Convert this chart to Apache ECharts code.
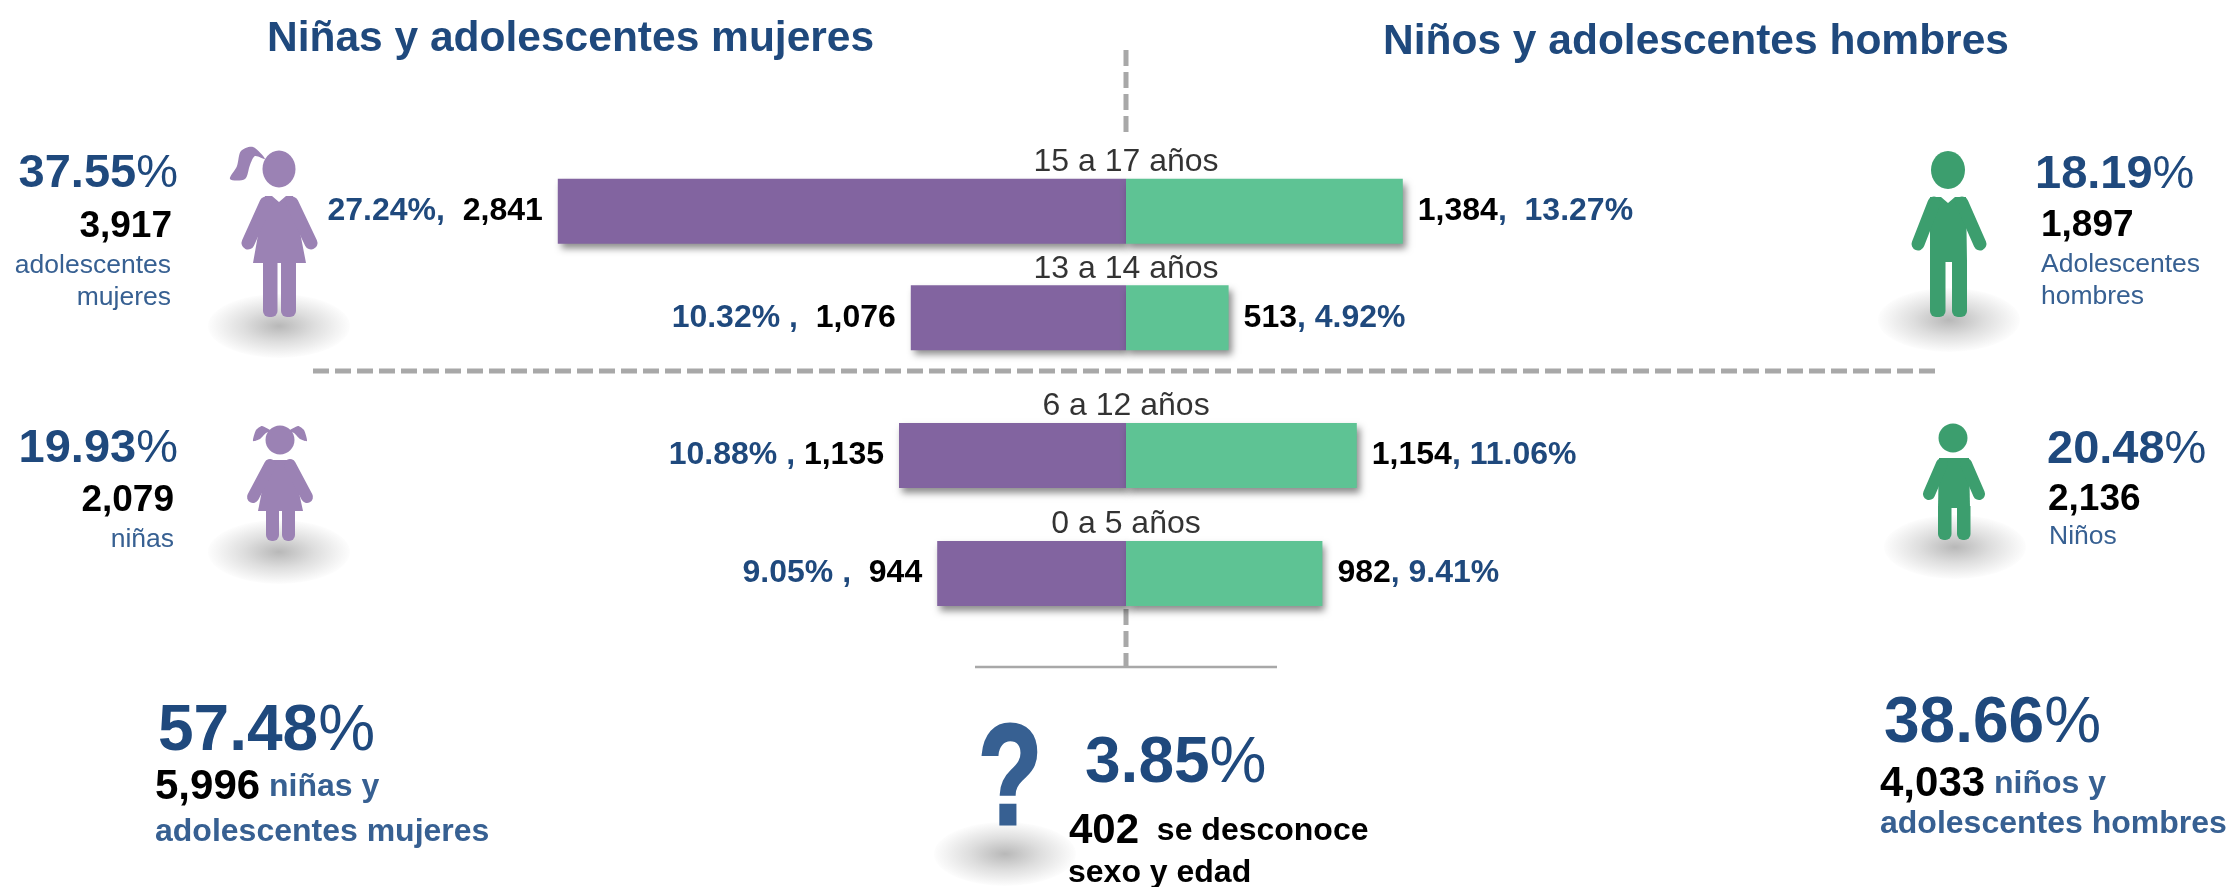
<!DOCTYPE html>
<html>
<head>
<meta charset="utf-8">
<title>Niñas, niños y adolescentes</title>
<script src="https://cdn.jsdelivr.net/npm/echarts@6/dist/echarts.min.js"></script>
<style>
  html, body { margin: 0; padding: 0; background: #fff; }
  #chart { width: 2229px; height: 887px; }
</style>
</head>
<body>
<div id="chart"></div>
<script>
// data
// bars use the printed counts on one shared scale; the source drawing is not to
// scale, so some bars here differ from it in length by up to about 35px
const ageGroups = ['15 a 17 años', '13 a 14 años', '6 a 12 años', '0 a 5 años']
const girls = [2841, 1076, 1135, 944]
const boys = [1384, 513, 1154, 982]
const girlsPct = ['27.24%,', '10.32% ,', '10.88% ,', '9.05% ,']
const boysPct = [',  13.27%', ', 4.92%', ', 11.06%', ', 9.41%']
const girlsGap = ['  ', '  ', ' ', '  ']

const PURPLE = '#8264A0'
const GREEN = '#5EC394'
const GIRL = '#9B82B4'
const BOY = '#3C9E6E'
const BLUE = '#1F497D'
const SUB = '#376092'
const GREY = '#A8A8A8'
const FONT = '"Liberation Sans", Arial, sans-serif'

const fmt = (n) => n.toLocaleString('en-US')

// one bar series, half of a row block (offset = index of the block's first row)
function barSeries(axis, offset, side) {
  const isGirl = side === 'girl'
  const source = isGirl ? girls : boys
  return {
    type: 'bar',
    xAxisIndex: axis,
    yAxisIndex: axis,
    stack: 'block' + axis,
    barWidth: 65,
    data: source.slice(offset, offset + 2).map(v => isGirl ? -v : v),
    itemStyle: {
      color: isGirl ? PURPLE : GREEN,
      shadowColor: 'rgba(0,0,0,0.45)',
      shadowBlur: 7,
      shadowOffsetX: 3,
      shadowOffsetY: 5
    },
    label: {
      show: true,
      position: isGirl ? 'left' : 'right',
      distance: 15,
      formatter: (p) => {
        const i = p.dataIndex + offset
        return isGirl
          ? `{p|${girlsPct[i]}}{n|${girlsGap[i]}${fmt(girls[i])}}`
          : `{n|${fmt(boys[i])}}{p|${boysPct[i]}}`
      },
      rich: {
        p: { fontFamily: FONT, fontSize: 32, fontWeight: 'bold', color: BLUE },
        n: { fontFamily: FONT, fontSize: 32, fontWeight: 'bold', color: '#000' }
      }
    }
  }
}

// age caption above each row, anchored on the zero line
function ageSeries(axis, names) {
  return {
    type: 'scatter',
    xAxisIndex: axis,
    yAxisIndex: axis,
    symbolSize: 0,
    data: names.map(name => [0, name]),
    label: {
      show: true,
      position: 'top',
      distance: 33,
      formatter: (p) => p.value[1],
      fontFamily: FONT,
      fontSize: 32,
      color: '#000'
    }
  }
}

function valueAxis(index) {
  return { gridIndex: index, type: 'value', min: -3000, max: 3000, show: false }
}

function ageAxis(index, names) {
  return { gridIndex: index, type: 'category', inverse: true, data: names, show: false }
}

// helpers for the decoration drawn around the bars
function text(x, y, content, align, rich) {
  return {
    type: 'text',
    z: 5,
    style: { x, y: y + 2.5, text: content, align, verticalAlign: 'middle', rich, fontFamily: FONT }
  }
}

// circle squashed to an ellipse so the radial gradient follows its shape
function floorShadow(cx, cy) {
  return {
    type: 'circle',
    z: 1,
    x: cx,
    y: cy,
    scaleY: 0.45,
    shape: { cx: 0, cy: 0, r: 71 },
    style: {
      fill: new echarts.graphic.RadialGradient(0.5, 0.5, 0.5, [
        { offset: 0, color: '#b8b8b8' },
        { offset: 0.5, color: '#dedede' },
        { offset: 0.85, color: '#f4f4f4' },
        { offset: 1, color: '#fdfdfd' }
      ])
    }
  }
}

const ell = (cx, cy, rx, ry, fill) => ({ type: 'ellipse', z: 3, shape: { cx, cy, rx, ry }, style: { fill } })
const poly = (points, fill, smooth) => ({ type: 'polygon', z: 3, shape: { points, smooth: smooth || 0 }, style: { fill } })
const leg = (x, y, width, height, fill) => ({ type: 'rect', z: 3, shape: { x, y, width, height, r: [0, 0, 6, 6] }, style: { fill } })
const arm = (x1, y1, x2, y2, w, stroke) => ({
  type: 'line', z: 3, shape: { x1, y1, x2, y2 }, style: { stroke, lineWidth: w, lineCap: 'round' }
})
const dashed = (x1, y1, x2, y2) => ({
  type: 'line', z: 0, shape: { x1, y1, x2, y2 }, style: { stroke: GREY, lineWidth: 5, lineDash: [16, 6] }
})

// graphic text takes fill, not color, in its rich styles
const big = (s) => ({
  a: { fontFamily: FONT, fontSize: s, fontWeight: 'bold', fill: BLUE },
  b: { fontFamily: FONT, fontSize: s, fill: BLUE }
})
const black = (s) => ({ n: { fontFamily: FONT, fontSize: s, fontWeight: 'bold', fill: '#000' } })
const sub = { s: { fontFamily: FONT, fontSize: 26.5, fill: SUB } }
const totals = (s) => ({
  ...black(42),
  t: { fontFamily: FONT, fontSize: s, fontWeight: 'bold', fill: SUB },
  k: { fontFamily: FONT, fontSize: s, fontWeight: 'bold', fill: '#000' }
})
const header = { h: { fontFamily: FONT, fontSize: 42.5, fontWeight: 'bold', fill: BLUE } }

const decoration = [
  // guide lines
  dashed(1126, 50, 1126, 135),
  dashed(313, 371, 1940, 371),
  dashed(1126, 609, 1126, 667),
  { type: 'line', z: 0, shape: { x1: 975, y1: 667, x2: 1277, y2: 667 }, style: { stroke: GREY, lineWidth: 2.5 } },

  // adolescent girl
  floorShadow(279, 326),
  ell(279, 169, 16.5, 18.5, GIRL),
  poly([[265, 159], [253, 147], [241, 151], [237, 166], [230, 179], [245, 179], [250, 165], [255, 156]], GIRL, 0.3),
  poly([[265, 196], [272, 196], [279, 202], [286, 196], [293, 196], [306, 263], [253, 263]], GIRL),
  arm(266, 203, 248, 243, 13, GIRL),
  arm(292, 203, 311, 243, 13, GIRL),
  leg(263, 262, 14.5, 55, GIRL),
  leg(281, 262, 15, 55, GIRL),

  // girl
  floorShadow(279, 552),
  ell(280, 440, 14.5, 14.5, GIRL),
  poly([[271, 431], [262, 426], [256, 430], [253, 441], [260, 439], [266, 433]], GIRL, 0.2),
  poly([[289, 431], [298, 426], [304, 430], [307, 441], [300, 439], [294, 433]], GIRL, 0.2),
  poly([[268, 460], [292, 460], [303, 511], [258, 511]], GIRL),
  arm(270, 465, 253, 497, 12, GIRL),
  arm(290, 465, 307, 497, 12, GIRL),
  leg(266, 510, 13, 31, GIRL),
  leg(282, 510, 13, 31, GIRL),

  // adolescent boy
  floorShadow(1949, 320),
  ell(1948, 170, 17, 19, BOY),
  poly([[1930, 197], [1941, 197], [1948, 203], [1955, 197], [1966, 197], [1967, 262], [1930, 262]], BOY),
  arm(1934, 203, 1918, 244, 13, BOY),
  arm(1962, 203, 1980, 244, 13, BOY),
  leg(1930, 260, 15.5, 57, BOY),
  leg(1952, 260, 15, 57, BOY),

  // boy
  floorShadow(1955, 547),
  ell(1953, 438, 14.5, 14.5, BOY),
  poly([[1939, 458], [1969, 458], [1970, 508], [1938, 508]], BOY),
  arm(1942, 464, 1929, 494, 12, BOY),
  arm(1966, 464, 1979, 494, 12, BOY),
  leg(1938, 506, 13.5, 34, BOY),
  leg(1957, 506, 13.5, 34, BOY),

  // unknown
  floorShadow(1005, 854),
  {
    type: 'text',
    z: 5,
    x: 1010,
    y: 785,
    scaleX: 0.74,
    style: {
      x: 0, y: 0, text: '?', align: 'center', verticalAlign: 'middle',
      fontFamily: FONT, fontSize: 142, fontWeight: 'bold', fill: SUB,
      stroke: SUB, lineWidth: 3
    }
  },

  // headers
  text(267, 37, '{h|Niñas y adolescentes mujeres}', 'left', header),
  text(1383, 40, '{h|Niños y adolescentes hombres}', 'left', header),

  // left side
  text(178, 172, '{a|37.55}{b|%}', 'right', big(47)),
  text(172, 224, '{n|3,917}', 'right', black(37)),
  text(171, 263, '{s|adolescentes}', 'right', sub),
  text(171, 295, '{s|mujeres}', 'right', sub),
  text(178, 447, '{a|19.93}{b|%}', 'right', big(47)),
  text(174, 498, '{n|2,079}', 'right', black(37)),
  text(174, 537, '{s|niñas}', 'right', sub),

  // right side
  text(2035, 173, '{a|18.19}{b|%}', 'left', big(47)),
  text(2041, 223, '{n|1,897}', 'left', black(37)),
  text(2041, 262, '{s|Adolescentes}', 'left', sub),
  text(2041, 294, '{s|hombres}', 'left', sub),
  text(2047, 448, '{a|20.48}{b|%}', 'left', big(47)),
  text(2048, 497, '{n|2,136}', 'left', black(37)),
  text(2049, 534, '{s|Niños}', 'left', sub),

  // totals
  text(158, 730, '{a|57.48}{b|%}', 'left', big(64)),
  text(155, 785, '{n|5,996}{t| niñas y}', 'left', totals(32)),
  text(155, 830, '{t|adolescentes mujeres}', 'left', totals(32)),
  text(1884, 722, '{a|38.66}{b|%}', 'left', big(64)),
  text(1880, 782, '{n|4,033}{t| niños y}', 'left', totals(32)),
  text(1880, 822, '{t|adolescentes hombres}', 'left', totals(32)),
  text(1085, 762, '{a|3.85}{b|%}', 'left', big(64)),
  text(1069, 829, '{n|402}{k|  se desconoce}', 'left', totals(32)),
  text(1068, 871, '{k|sexo y edad}', 'left', totals(32))
]

const chart = echarts.init(document.getElementById('chart'))

const upperAges = ageGroups.slice(0, 2)
const lowerAges = ageGroups.slice(2)

chart.setOption({
  animation: false,
  backgroundColor: '#fff',
  // two blocks of rows, split by the dashed line
  grid: [
    { left: 526, width: 1200, top: 158, height: 213 },
    { left: 526, width: 1200, top: 396.5, height: 236 }
  ],
  xAxis: [valueAxis(0), valueAxis(1)],
  yAxis: [ageAxis(0, upperAges), ageAxis(1, lowerAges)],
  series: [
    barSeries(0, 0, 'girl'),
    barSeries(0, 0, 'boy'),
    barSeries(1, 2, 'girl'),
    barSeries(1, 2, 'boy'),
    ageSeries(0, upperAges),
    ageSeries(1, lowerAges)
  ],
  graphic: { elements: decoration }
})

window.addEventListener('resize', () => chart.resize())
</script>
</body>
</html>
